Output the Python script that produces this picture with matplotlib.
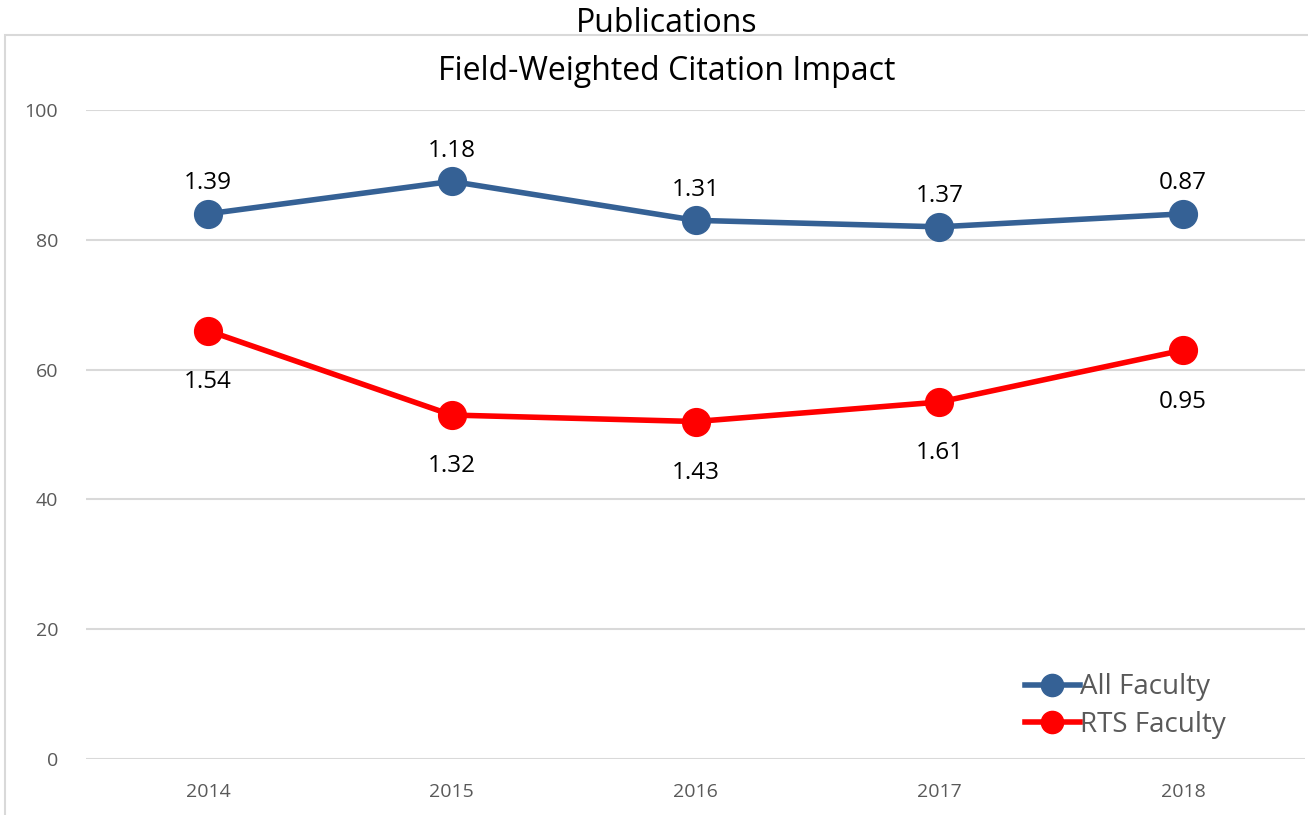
import matplotlib.pyplot as plt
from matplotlib.patches import Rectangle

# Datos del grafico
years = ["2014", "2015", "2016", "2017", "2018"]
all_faculty = [84, 89, 83, 82, 84]
rts_faculty = [66, 53, 52, 55, 63]
all_labels = ["1.39", "1.18", "1.31", "1.37", "0.87"]
rts_labels = ["1.54", "1.32", "1.43", "1.61", "0.95"]

plt.rcParams['font.family'] = ['Open Sans', 'DejaVu Sans']

W, H = 1308, 815
fig = plt.figure(figsize=(W / 100, H / 100), dpi=100)
ax = fig.add_axes([86 / W, 1 - 759 / H, (1305 - 86) / W, (759 - 110) / H])

x = list(range(len(years)))
ax.plot(x, all_faculty, color="#356195", lw=4, marker="o", ms=20, label="All Faculty", zorder=3)
ax.plot(x, rts_faculty, color="#ff0000", lw=4, marker="o", ms=20, label="RTS Faculty", zorder=3)

for i in x:
    ax.annotate(all_labels[i], (i, all_faculty[i]), xytext=(0, 22), textcoords="offset points",
                ha="center", va="center", fontsize=17.5, color="black")
    ax.annotate(rts_labels[i], (i, rts_faculty[i]), xytext=(0, -37), textcoords="offset points",
                ha="center", va="center", fontsize=17.5, color="black")

ax.set_xlim(-0.5, 4.5)
ax.set_ylim(0, 100)
ax.set_yticks(range(0, 101, 20))
ax.set_xticks(x)
ax.set_xticklabels(years)
ax.grid(axis="y", color="#d9d9d9", lw=1.5)
ax.set_axisbelow(True)
for s in ax.spines.values():
    s.set_visible(False)
ax.tick_params(length=0, labelsize=14, labelcolor="#595959", pad=17)
ax.tick_params(axis="y", pad=20)

leg = ax.legend(loc="lower right", bbox_to_anchor=(1160 / (1305 - 86), 0.0),
                frameon=False, fontsize=20, handlelength=2.0, handletextpad=0.0,
                labelspacing=0.35, markerscale=0.8, borderaxespad=0.32)
for t in leg.get_texts():
    t.set_color("#595959")

# Borde del grafico
fig.patches.append(Rectangle((5 / W, -0.1), 1.2, 1 - 35 / H + 0.1, transform=fig.transFigure,
                             fill=False, edgecolor="#d9d9d9", lw=1.5, zorder=0))

fig.text(0.51, 1 - 24 / H, "Publications", ha="center", va="center", fontsize=23)
fig.text(0.51, 1 - 71 / H, "Field-Weighted Citation Impact", ha="center", va="center", fontsize=23)

fig.savefig("out.png", dpi=100)
